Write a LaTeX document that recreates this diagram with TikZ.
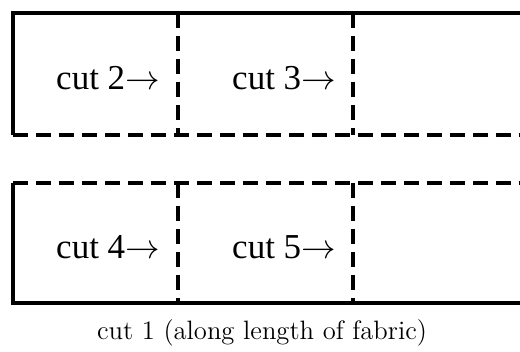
\documentclass[tikz,border=0pt]{standalone}
\usepackage{fontspec}
\newfontfamily\piecefont{Liberation Serif}
\usetikzlibrary{positioning}

\begin{document}
\begin{tikzpicture}[x=0.5pt, y=-0.5pt,
    edge/.style={line width=2pt},
    cutline/.style={line width=2pt, dash pattern=on 7.5pt off 4pt},
    piece/.style={font=\piecefont\fontsize{17.5}{20}\selectfont, inner sep=0pt}]
    \useasboundingbox (0,0) rectangle (520,352);

    % Upper strip
    \coordinate (utl) at (13,13);
    \coordinate (utr) at (520,13);
    \coordinate (ubl) at (13,135);
    \coordinate (ubr) at (520,135);
    \coordinate (ut2) at (178,13);
    \coordinate (ub2) at (178,135);
    \coordinate (ut3) at (353,13);
    \coordinate (ub3) at (353,135);

    % Lower strip
    \coordinate (ltl) at (13,183);
    \coordinate (ltr) at (520,183);
    \coordinate (lbl) at (13,303);
    \coordinate (lbr) at (520,303);
    \coordinate (lt4) at (178,183);
    \coordinate (lb4) at (178,303);
    \coordinate (lt5) at (353,183);
    \coordinate (lb5) at (353,303);

    % Edges of the fabric
    \draw[edge] (ubl) -- (utl) -- (utr);
    \draw[edge] (ltl) -- (lbl) -- (lbr);

    % Cuts
    \draw[cutline] (ubl) -- (ubr);
    \draw[cutline] (ltl) -- (ltr);
    \draw[cutline] (ut2) -- (ub2);
    \draw[cutline] (ut3) -- (ub3);
    \draw[cutline] (lt4) -- (lb4);
    \draw[cutline] (lt5) -- (lb5);

    % Labels
    \node[piece] (c2) at (108,78) {cut 2$\rightarrow$};
    \node[piece] (c3) at (284,78) {cut 3$\rightarrow$};
    \node[piece] (c4) at (108,247) {cut 4$\rightarrow$};
    \node[piece] (c5) at (284,247) {cut 5$\rightarrow$};
    \node[font=\fontsize{13.3}{15}\selectfont] (c1) at (262,333) {cut 1 (along length of fabric)};
\end{tikzpicture}
\end{document}
